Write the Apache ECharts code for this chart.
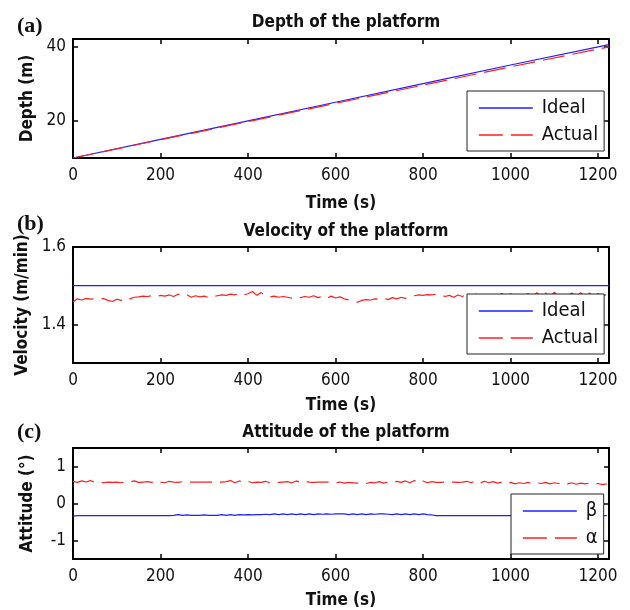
<!DOCTYPE html>
<html>
<head>
<meta charset="utf-8">
<script src="https://cdn.jsdelivr.net/npm/echarts@6/dist/echarts.min.js"></script>
<style>
  html, body { margin: 0; padding: 0; background: #fff; }
  #chart { width: 630px; height: 610px; }
</style>
</head>
<body>
<div id="chart"></div>
<script>
// ---- Panel (a): depth of the platform ----
const depthTime   = [0, 200, 400, 600, 800, 1000, 1225];
const depthIdeal  = [10, 15, 20, 25, 30, 35, 40.5];
const depthActual = [10, 14.9, 19.8, 24.7, 29.6, 34.5, 39.9];

// ---- Panel (b): velocity (m/min), sampled every 10 s from t = 0 ----
const SAMPLE_STEP = 10;
const velIdeal = 1.5;
const velActual = [
  1.458, 1.466, 1.463, 1.467, 1.465, 1.466, 1.464, 1.467, 1.462, 1.459,
  1.465, 1.462, 1.468, 1.466, 1.470, 1.471, 1.473, 1.472, 1.474, 1.471,
  1.475, 1.473, 1.476, 1.472, 1.478, 1.474, 1.477, 1.470, 1.474, 1.471,
  1.473, 1.469, 1.472, 1.474, 1.476, 1.475, 1.478, 1.476, 1.480, 1.476,
  1.479, 1.485, 1.475, 1.482, 1.474, 1.471, 1.473, 1.470, 1.472, 1.470,
  1.468, 1.471, 1.469, 1.472, 1.470, 1.474, 1.469, 1.472, 1.467, 1.473,
  1.468, 1.471, 1.466, 1.463, 1.460, 1.457, 1.462, 1.464, 1.463, 1.466,
  1.465, 1.467, 1.464, 1.469, 1.466, 1.470, 1.467, 1.472, 1.474, 1.476,
  1.475, 1.477, 1.476, 1.478, 1.477, 1.472, 1.475, 1.470, 1.476, 1.472,
  1.479, 1.471, 1.478, 1.473, 1.476, 1.471, 1.479, 1.473, 1.480, 1.472,
  1.479, 1.473, 1.481, 1.472, 1.480, 1.471, 1.482, 1.472, 1.481, 1.470,
  1.483, 1.471, 1.482, 1.472, 1.481, 1.471, 1.482, 1.472, 1.481, 1.470,
  1.480, 1.472, 1.478
];

// ---- Panel (c): attitude angles (deg), sampled every 10 s from t = 0 ----
const attBeta = [
  -0.34, -0.33, -0.33, -0.33, -0.33, -0.33, -0.33, -0.33, -0.33, -0.33,
  -0.33, -0.33, -0.33, -0.33, -0.33, -0.33, -0.33, -0.33, -0.33, -0.33,
  -0.33, -0.33, -0.33, -0.32, -0.30, -0.32, -0.31, -0.32, -0.32, -0.32,
  -0.31, -0.32, -0.32, -0.32, -0.30, -0.32, -0.30, -0.32, -0.30, -0.31,
  -0.30, -0.31, -0.30, -0.30, -0.29, -0.30, -0.28, -0.30, -0.28, -0.30,
  -0.28, -0.30, -0.28, -0.30, -0.28, -0.30, -0.28, -0.29, -0.28, -0.29,
  -0.28, -0.28, -0.28, -0.30, -0.28, -0.30, -0.28, -0.30, -0.28, -0.29,
  -0.28, -0.28, -0.29, -0.30, -0.28, -0.30, -0.28, -0.30, -0.28, -0.30,
  -0.28, -0.30, -0.31, -0.33, -0.33, -0.33, -0.33, -0.33, -0.33, -0.33,
  -0.33, -0.33, -0.33, -0.33, -0.33, -0.33, -0.33, -0.33, -0.33, -0.33,
  -0.33, -0.33, -0.33, -0.33, -0.33, -0.33, -0.33, -0.33, -0.33, -0.33,
  -0.33, -0.33, -0.33, -0.33, -0.33, -0.33, -0.33, -0.33, -0.33, -0.33,
  -0.33, -0.33, -0.33
];
const attAlpha = [
  0.60, 0.57, 0.61, 0.58, 0.62, 0.57, 0.59, 0.56, 0.58, 0.57,
  0.58, 0.56, 0.59, 0.58, 0.61, 0.57, 0.58, 0.59, 0.57, 0.61,
  0.58, 0.56, 0.60, 0.58, 0.57, 0.59, 0.58, 0.58, 0.58, 0.58,
  0.58, 0.58, 0.58, 0.58, 0.58, 0.59, 0.62, 0.56, 0.61, 0.57,
  0.60, 0.56, 0.58, 0.57, 0.60, 0.56, 0.59, 0.57, 0.58, 0.59,
  0.56, 0.61, 0.57, 0.60, 0.58, 0.57, 0.58, 0.58, 0.58, 0.57,
  0.56, 0.58, 0.55, 0.57, 0.56, 0.55, 0.58, 0.54, 0.57, 0.56,
  0.59, 0.55, 0.58, 0.57, 0.60, 0.57, 0.61, 0.56, 0.62, 0.55,
  0.61, 0.56, 0.59, 0.57, 0.57, 0.58, 0.57, 0.58, 0.57, 0.58,
  0.60, 0.56, 0.61, 0.55, 0.60, 0.56, 0.59, 0.55, 0.58, 0.54,
  0.57, 0.53, 0.56, 0.54, 0.57, 0.53, 0.56, 0.54, 0.57, 0.53,
  0.56, 0.54, 0.57, 0.53, 0.56, 0.52, 0.55, 0.53, 0.55, 0.52,
  0.54, 0.51, 0.53
];

const xTicks = [0, 200, 400, 600, 800, 1000, 1200];
const depthTicks = [20, 40];
const velTicks = [1.4, 1.6];
const attTicks = [-1, 0, 1];

const withTime = arr => arr.map((v, i) => [i * SAMPLE_STEP, v]);
const pairs = (xs, ys) => xs.map((x, i) => [x, ys[i]]);

const FONT = '"DejaVu Sans Condensed", "Liberation Sans Narrow", "Liberation Sans", Arial, sans-serif';
const BLUE = '#1f1fff';
const RED = '#ff1f1f';
const DASH = [22, 8];
const LEGEND_DASH = [24, 8];

const grids = [
  { left: 73, top: 39, width: 536, height: 119 },
  { left: 73, top: 247, width: 536, height: 116 },
  { left: 73, top: 448, width: 536, height: 112 }
];

const frameLine = { show: true, onZero: false, lineStyle: { color: '#000', width: 2 } };
const tickLine = { color: '#000', width: 1.5 };
const nameStyle = { fontFamily: FONT, fontWeight: 'bold', fontSize: 17, color: '#111' };

function bottomAxis(gi, nameGap) {
  return {
    type: 'value', gridIndex: gi, position: 'bottom', min: 0, max: 1225,
    axisLine: frameLine,
    axisTick: { show: true, inside: true, length: 5, lineStyle: tickLine, customValues: xTicks },
    axisLabel: { customValues: xTicks, formatter: v => String(v), color: '#111', fontFamily: FONT, fontSize: 17, margin: 9 },
    splitLine: { show: false },
    name: 'Time (s)', nameLocation: 'middle', nameGap: nameGap, nameTextStyle: nameStyle
  };
}
function topAxis(gi) {
  return {
    type: 'value', gridIndex: gi, position: 'top', min: 0, max: 1225,
    axisLine: frameLine,
    axisTick: { show: true, inside: true, length: 5, lineStyle: tickLine, customValues: xTicks },
    axisLabel: { show: false }, splitLine: { show: false }
  };
}
function leftAxis(gi, min, max, ticks, name, nameGap) {
  return {
    type: 'value', gridIndex: gi, position: 'left', min: min, max: max,
    axisLine: frameLine,
    axisTick: { show: true, inside: true, length: 5, lineStyle: tickLine, customValues: ticks },
    axisLabel: { customValues: ticks, formatter: v => String(v), color: '#111', fontFamily: FONT, fontSize: 17, margin: 7 },
    splitLine: { show: false },
    name: name, nameLocation: 'middle', nameGap: nameGap, nameRotate: 90, nameTextStyle: nameStyle
  };
}
function rightAxis(gi, min, max, ticks) {
  return {
    type: 'value', gridIndex: gi, position: 'right', min: min, max: max,
    axisLine: frameLine,
    axisTick: { show: true, inside: true, length: 5, lineStyle: tickLine, customValues: ticks },
    axisLabel: { show: false }, splitLine: { show: false }
  };
}

function lineSeries(name, xi, yi, data, color, dashed, z) {
  return {
    name: name, type: 'line', xAxisIndex: xi, yAxisIndex: yi, data: data,
    showSymbol: false, symbol: 'none', animation: false, z: z,
    lineStyle: { color: color, width: 1.2, type: dashed ? DASH : 'solid' },
    itemStyle: { color: color }
  };
}

// Legend entries: [name, colour, dashed]
function legendBox(entries, left, top) {
  return {
    data: entries.map(([name, color, dashed]) => ({
      name: name,
      lineStyle: { color: color, width: 1.6, type: dashed ? LEGEND_DASH : 'solid' }
    })),
    formatter: n => n.trim(),
    orient: 'vertical', left: left, top: top,
    backgroundColor: '#fff', borderColor: '#222', borderWidth: 1,
    padding: [7, 6, 6, 11], itemGap: 7, itemWidth: 54, itemHeight: 14,
    selectedMode: false,
    itemStyle: { opacity: 0 },
    textStyle: { fontFamily: FONT, fontSize: 20, color: '#111', padding: [0, 0, 0, 4] }
  };
}

const chart = echarts.init(document.getElementById('chart'), null, { renderer: 'canvas' });

const titleStyle = { fontFamily: FONT, fontWeight: 'bold', fontSize: 17, color: '#111' };
const tagStyle = { fontFamily: '"Liberation Serif", "Times New Roman", serif', fontWeight: 'bold', fontSize: 22, color: '#111' };

chart.setOption({
  backgroundColor: '#fff',
  animation: false,
  title: [
    { text: 'Depth of the platform', left: 341, top: 9, textAlign: 'center', textStyle: titleStyle },
    { text: 'Velocity of the platform', left: 341, top: 218, textAlign: 'center', textStyle: titleStyle },
    { text: 'Attitude of the platform', left: 341, top: 419, textAlign: 'center', textStyle: titleStyle },
    { text: '(a)', left: 12, top: 10, textStyle: tagStyle },
    { text: '(b)', left: 12, top: 208, textStyle: tagStyle },
    { text: '(c)', left: 12, top: 416, textStyle: tagStyle }
  ],
  grid: grids,
  xAxis: [
    bottomAxis(0, 37), topAxis(0),
    bottomAxis(1, 34), topAxis(1),
    bottomAxis(2, 33), topAxis(2)
  ],
  yAxis: [
    leftAxis(0, 10, 42, depthTicks, 'Depth (m)', 37), rightAxis(0, 10, 42, depthTicks),
    leftAxis(1, 1.3, 1.6, velTicks, 'Velocity (m/min)', 37), rightAxis(1, 1.3, 1.6, velTicks),
    leftAxis(2, -1.5, 1.5, attTicks, 'Attitude (°)', 37), rightAxis(2, -1.5, 1.5, attTicks)
  ],
  legend: [
    legendBox([['Ideal', BLUE, false], ['Actual', RED, true]], 467, 91),
    legendBox([['Ideal ', BLUE, false], ['Actual ', RED, true]], 467, 294),
    legendBox([['β', BLUE, false], ['α', RED, true]], 511, 494)
  ],
  series: [
    lineSeries('Ideal', 0, 0, pairs(depthTime, depthIdeal), BLUE, false, 2),
    lineSeries('Actual', 0, 0, pairs(depthTime, depthActual), RED, true, 3),
    lineSeries('Ideal ', 2, 2, [[0, velIdeal], [1225, velIdeal]], BLUE, false, 2),
    lineSeries('Actual ', 2, 2, withTime(velActual), RED, true, 3),
    lineSeries('β', 4, 4, withTime(attBeta), BLUE, false, 2),
    lineSeries('α', 4, 4, withTime(attAlpha), RED, true, 3)
  ]
});
</script>
</body>
</html>
